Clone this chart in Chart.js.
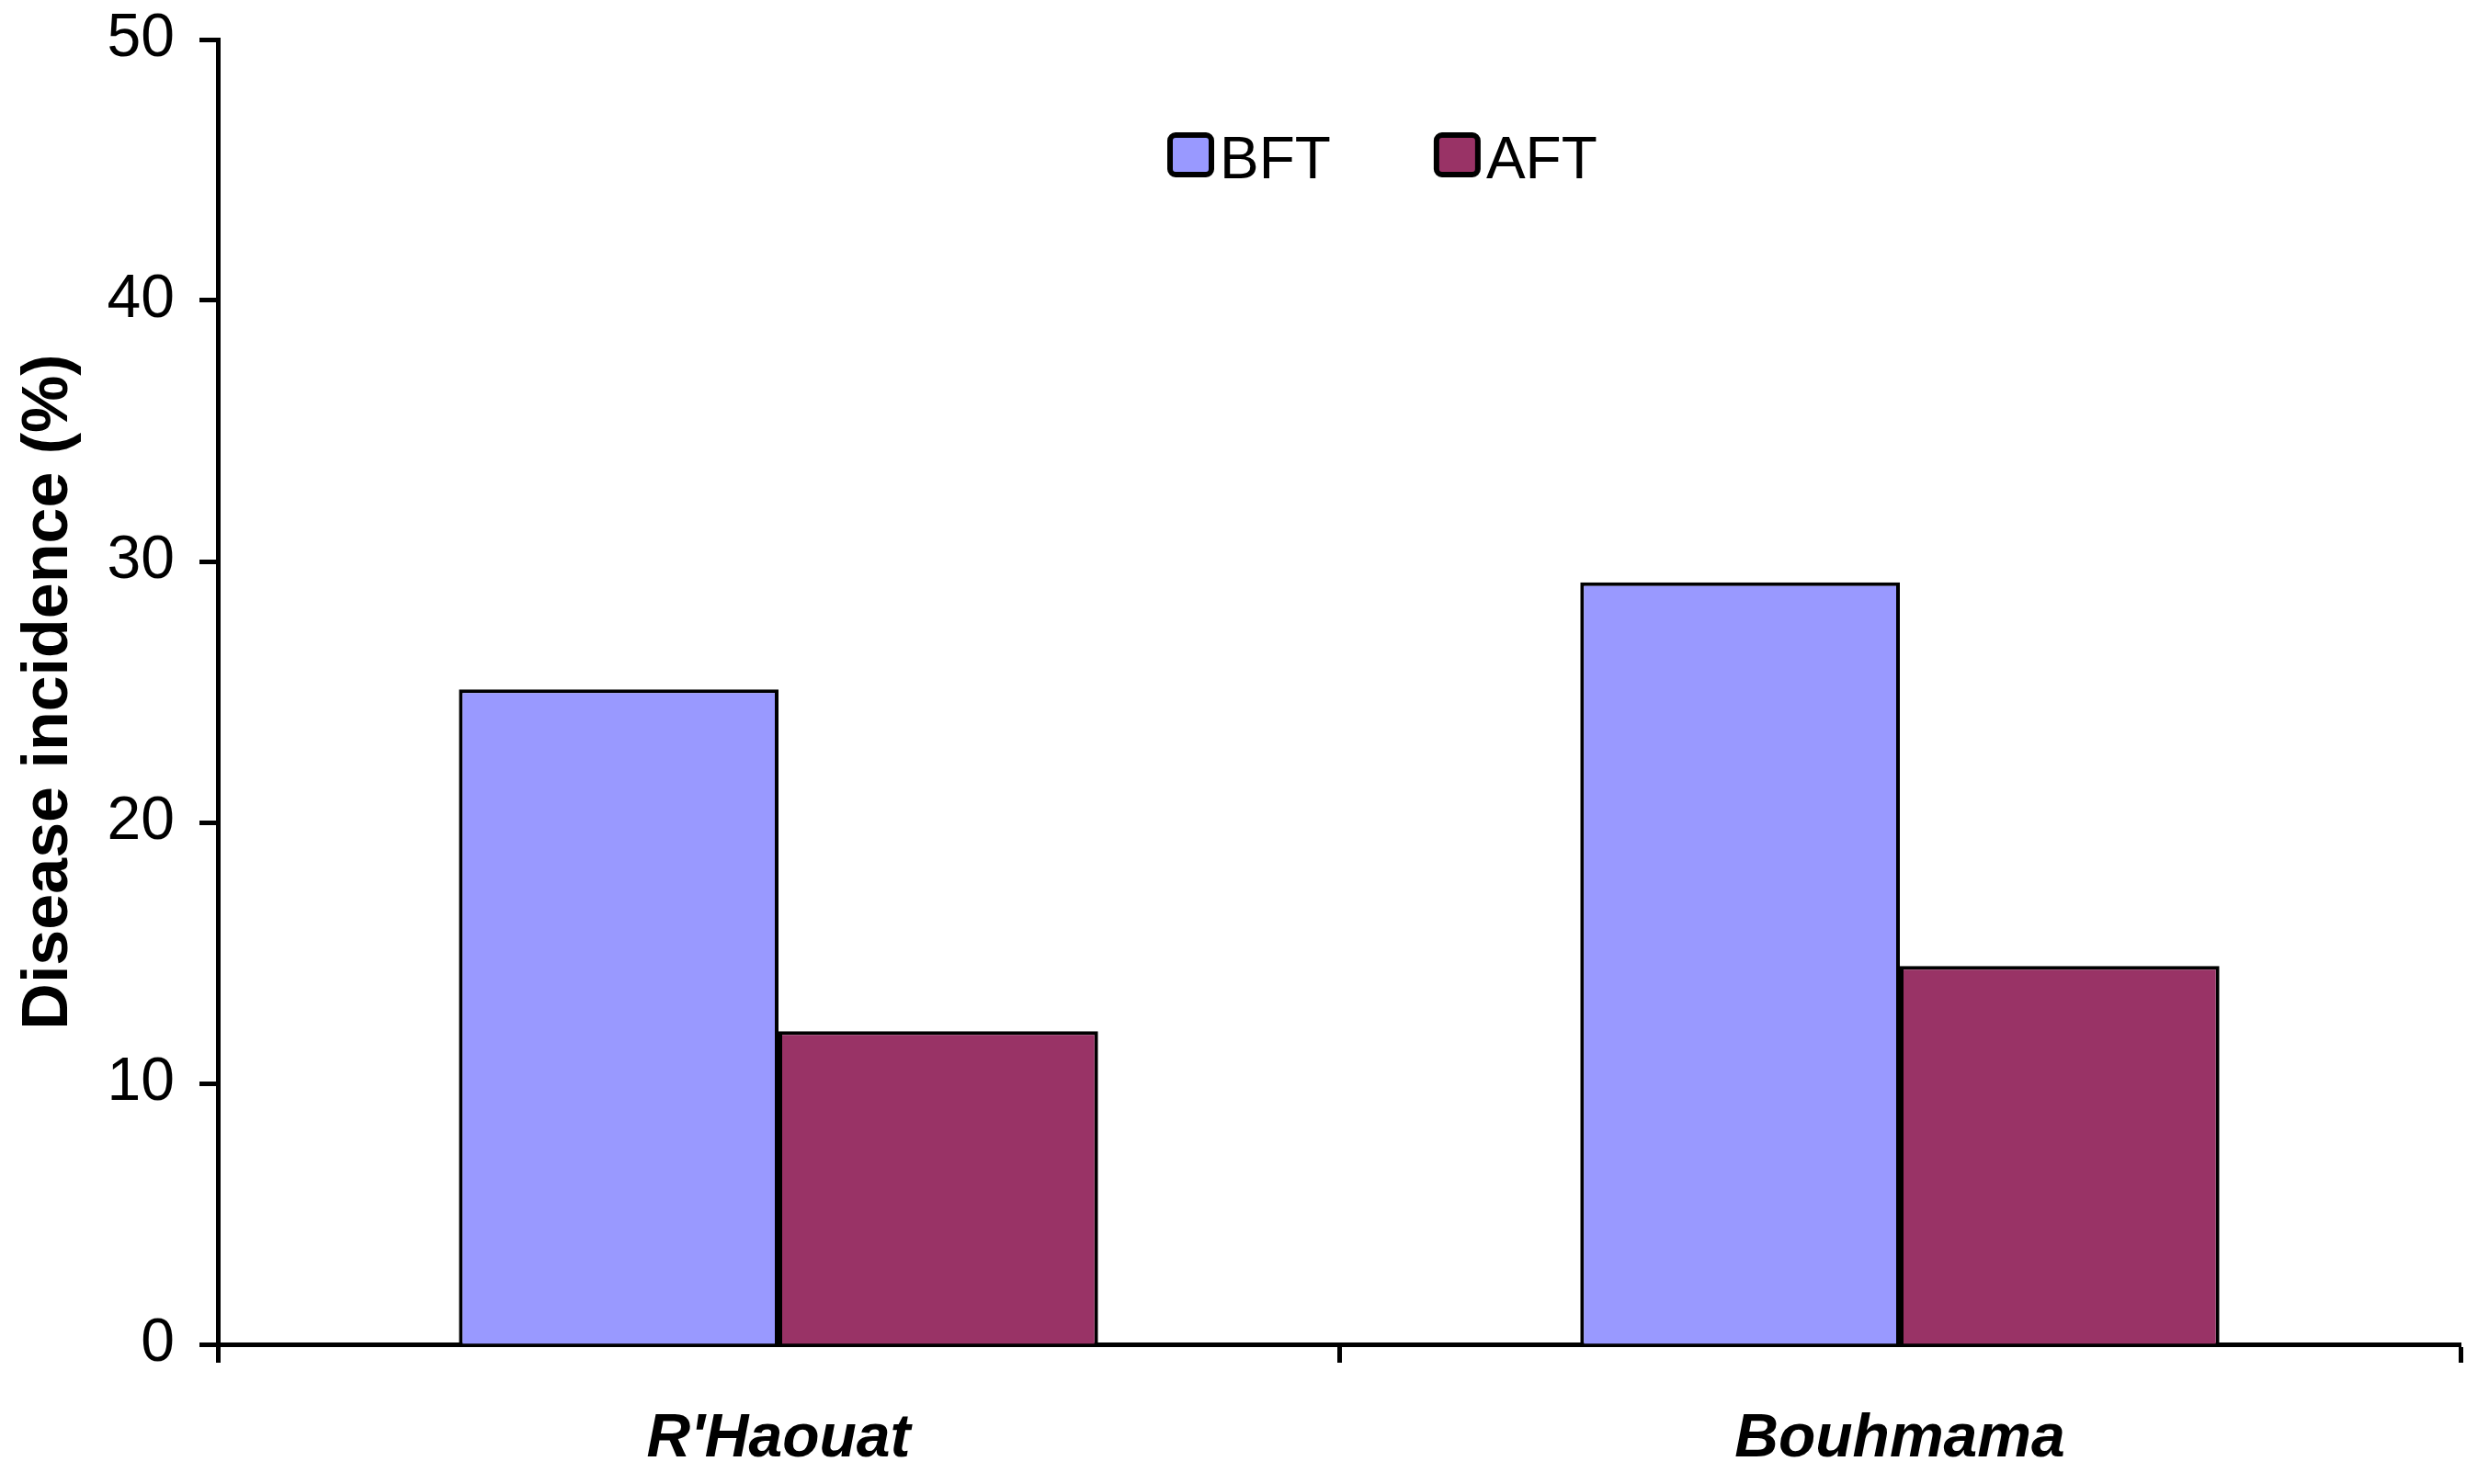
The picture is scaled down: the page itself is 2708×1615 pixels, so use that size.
<!DOCTYPE html>
<html>
<head>
<meta charset="utf-8">
<script src="https://cdn.jsdelivr.net/npm/chart.js@4.4.0/dist/chart.umd.min.js"></script>
<style>
  html, body { margin: 0; padding: 0; background: #ffffff; }
  #wrap { width: 2708px; height: 1615px; }
</style>
</head>
<body>
<div id="wrap"><canvas id="c" width="2708" height="1615"></canvas></div>
<script>
const categories = ["R'Haouat", "Bouhmama"];
const seriesNames = ["BFT", "AFT"];
const bftValues = [25.1, 29.2];
const aftValues = [12.0, 14.5];
const yTicks = [0, 10, 20, 30, 40, 50];
const seriesColors = ["#9999FF", "#993366"];

const FONT = "'Liberation Sans', Arial, sans-serif";

const legendPlugin = {
  id: 'floatLegend',
  afterDraw(chart) {
    const ctx = chart.ctx;
    ctx.save();
    ctx.font = "64px " + FONT;
    ctx.textBaseline = 'alphabetic';
    let x = 1273;
    const boxY = 147, boxW = 45, boxH = 43, baseY = 194;
    chart.data.datasets.forEach((ds, i) => {
      ctx.beginPath();
      if (ctx.roundRect) ctx.roundRect(x, boxY, boxW, boxH, 6); else ctx.rect(x, boxY, boxW, boxH);
      ctx.fillStyle = ds.backgroundColor;
      ctx.fill();
      ctx.lineWidth = 6;
      ctx.strokeStyle = '#000';
      ctx.stroke();
      ctx.fillStyle = '#000';
      ctx.fillText(ds.label, x + boxW + 9, baseY);
      const w = ctx.measureText(ds.label).width;
      x = x + boxW + 9 + w + 115;
    });
    ctx.restore();
  }
};

new Chart(document.getElementById('c'), {
  type: 'bar',
  data: {
    labels: categories,
    datasets: [
      { label: seriesNames[0], data: bftValues, backgroundColor: seriesColors[0], borderColor: '#000', borderWidth: 4, borderSkipped: 'bottom' },
      { label: seriesNames[1], data: aftValues, backgroundColor: seriesColors[1], borderColor: '#000', borderWidth: 4, borderSkipped: 'bottom' }
    ]
  },
  options: {
    responsive: false,
    animation: false,
    devicePixelRatio: 1,
    layout: { padding: { top: 43, right: 31, left: 0, bottom: 0 } },
    datasets: { bar: { categoryPercentage: 0.57, barPercentage: 1.0 } },
    plugins: {
      legend: { display: false },
      tooltip: { enabled: false },
      title: { display: false }
    },
    scales: {
      x: {
        afterFit(scale) { scale.height = 152; scale.paddingLeft = 0; scale.paddingRight = 0; },
        grid: { display: true, offset: true, drawOnChartArea: false, drawTicks: true, tickLength: 20, tickWidth: 5, tickColor: '#000', color: '#000' },
        border: { display: true, color: '#000', width: 5 },
        ticks: { color: '#000', padding: 44, font: { family: FONT, size: 66, style: 'italic', weight: 'bold' } }
      },
      y: {
        min: 0, max: 50,
        afterFit(scale) { scale.width = 237; scale.paddingTop = 0; scale.paddingBottom = 0; },
        afterBuildTicks(scale) { scale.ticks = yTicks.map(v => ({ value: v })); },
        grid: { display: true, drawOnChartArea: false, drawTicks: true, tickLength: 20, tickWidth: 5, tickColor: '#000', color: '#000' },
        border: { display: true, color: '#000', width: 5 },
        ticks: { color: '#000', padding: 27, font: { family: FONT, size: 66 } },
        title: { display: true, text: 'Disease incidence (%)', color: '#000', padding: { top: 12, bottom: 0 }, font: { family: FONT, size: 70, weight: 'bold' } }
      }
    }
  },
  plugins: [legendPlugin]
});
</script>
</body>
</html>
